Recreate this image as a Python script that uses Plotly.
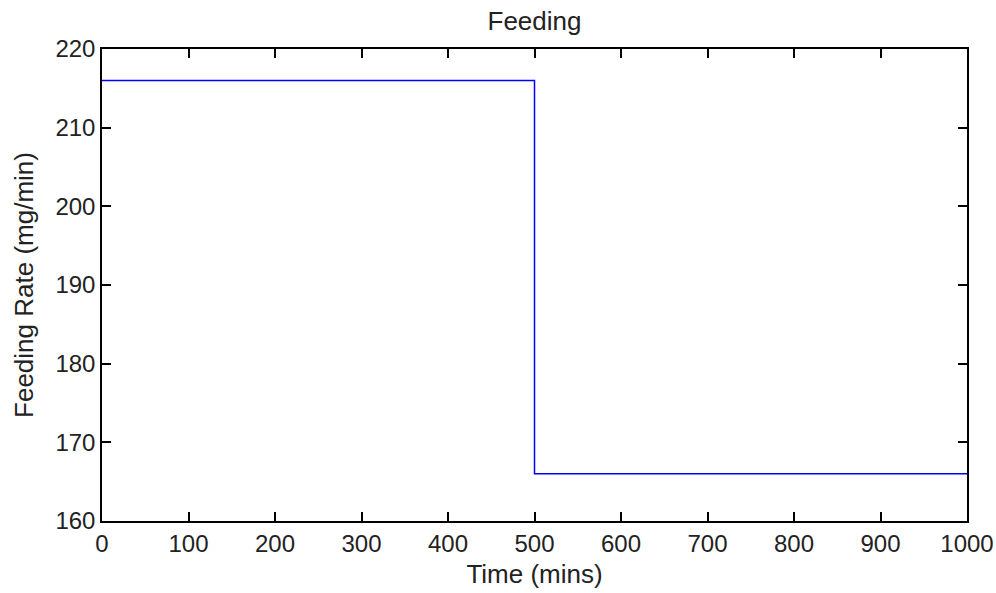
import plotly.graph_objects as go

time_mins = [0, 500, 1000]
feeding_rate = [216, 166, 166]
x_ticks = [0, 100, 200, 300, 400, 500, 600, 700, 800, 900, 1000]
y_ticks = [160, 170, 180, 190, 200, 210, 220]

fig = go.Figure()
fig.add_trace(go.Scatter(x=time_mins, y=feeding_rate, mode="lines",
                         line=dict(color="#0000FF", width=1.5, shape="hv"),
                         showlegend=False))

font = dict(family="Liberation Sans, Arial, sans-serif", size=24, color="#222222")
tfont = dict(family="Liberation Sans, Arial, sans-serif", size=26, color="#222222")
axis_common = dict(showline=True, linecolor="black", linewidth=1.5, mirror="allticks",
                   ticks="inside", ticklen=9, tickcolor="black", tickwidth=1.5,
                   showgrid=False, zeroline=False, tickfont=font, automargin=False)

fig.update_layout(
    width=996, height=593,
    margin=dict(l=102, r=29, t=49, b=72, autoexpand=False),
    paper_bgcolor="white", plot_bgcolor="white",
    font=font,
    title=dict(text="Feeding", xref="paper", x=0.5, xanchor="center", y=0.965, yanchor="middle",
               font=tfont, automargin=False),
    xaxis=dict(range=[0, 1000], tickvals=x_ticks, title=dict(text="Time (mins)", font=tfont, standoff=9), **axis_common),
    yaxis=dict(range=[160, 220], tickvals=y_ticks, title=dict(text="Feeding Rate (mg/min)", font=tfont, standoff=14), **axis_common),
)

fig.write_html("out.html")
